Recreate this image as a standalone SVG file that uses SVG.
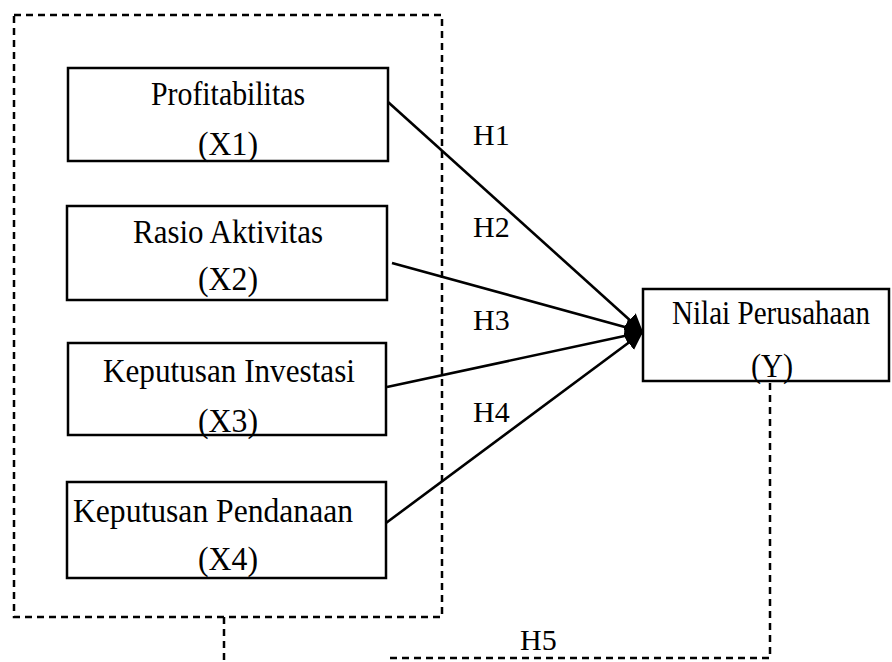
<svg xmlns="http://www.w3.org/2000/svg" width="892" height="662" viewBox="0 0 892 662">
<defs>
<style>
.box{fill:#fff;stroke:#000;stroke-width:2.5}
.dash{fill:none;stroke:#000;stroke-width:2.5;stroke-dasharray:7 5}
.lbl{font-family:"Liberation Serif","Times New Roman",serif;font-size:33px;fill:#000;text-anchor:middle}
.h{font-family:"Liberation Serif","Times New Roman",serif;font-size:30px;fill:#000}
.ln{stroke:#000;stroke-width:2.6;fill:none}
</style>
<marker id="arr" viewBox="0 0 10 10" refX="10" refY="5" markerWidth="18" markerHeight="18" markerUnits="userSpaceOnUse" orient="auto">
<path d="M0,0 L10,5 L0,10 z" fill="#000"/>
</marker>
</defs>
<rect width="892" height="662" fill="#fff"/>
<g id="group-box">
<rect class="dash" x="14" y="15" width="428" height="602"/>
</g>
<g id="x1">
<rect class="box" x="68" y="68" width="320" height="93"/>
<text class="lbl" x="228" y="105" textLength="154" lengthAdjust="spacingAndGlyphs">Profitabilitas</text>
<text class="lbl" x="228" y="155" textLength="60" lengthAdjust="spacingAndGlyphs">(X1)</text>
</g>
<g id="x2">
<rect class="box" x="67" y="206" width="320" height="94"/>
<text class="lbl" x="228" y="243" textLength="190" lengthAdjust="spacingAndGlyphs">Rasio Aktivitas</text>
<text class="lbl" x="228" y="290" textLength="60" lengthAdjust="spacingAndGlyphs">(X2)</text>
</g>
<g id="x3">
<rect class="box" x="68" y="343" width="318" height="92"/>
<text class="lbl" x="229" y="382" textLength="252" lengthAdjust="spacingAndGlyphs">Keputusan Investasi</text>
<text class="lbl" x="228" y="432" textLength="60" lengthAdjust="spacingAndGlyphs">(X3)</text>
</g>
<g id="x4">
<rect class="box" x="67" y="482" width="319" height="96"/>
<text class="lbl" x="213" y="522" textLength="280" lengthAdjust="spacingAndGlyphs">Keputusan Pendanaan</text>
<text class="lbl" x="228" y="570" textLength="60" lengthAdjust="spacingAndGlyphs">(X4)</text>
</g>
<g id="y">
<rect class="box" x="643" y="289" width="246" height="92"/>
<text class="lbl" x="771" y="324" textLength="198" lengthAdjust="spacingAndGlyphs">Nilai Perusahaan</text>
<text class="lbl" x="772" y="377" textLength="42" lengthAdjust="spacingAndGlyphs">(Y)</text>
</g>
<g id="connectors">
<line class="ln" x1="388" y1="102" x2="643" y2="332" marker-end="url(#arr)"/>
<line class="ln" x1="392" y1="263" x2="643" y2="332" marker-end="url(#arr)"/>
<line class="ln" x1="387" y1="387" x2="643" y2="332" marker-end="url(#arr)"/>
<line class="ln" x1="386" y1="523" x2="643" y2="332" marker-end="url(#arr)"/>
<path class="dash" d="M224,617 V662"/>
<path class="dash" d="M390,658 H770 V381"/>
</g>
<g id="labels">
<text class="h" x="473" y="145">H1</text>
<text class="h" x="473" y="237">H2</text>
<text class="h" x="473" y="330">H3</text>
<text class="h" x="473" y="422">H4</text>
<text class="h" x="520" y="650">H5</text>
</g>
</svg>
